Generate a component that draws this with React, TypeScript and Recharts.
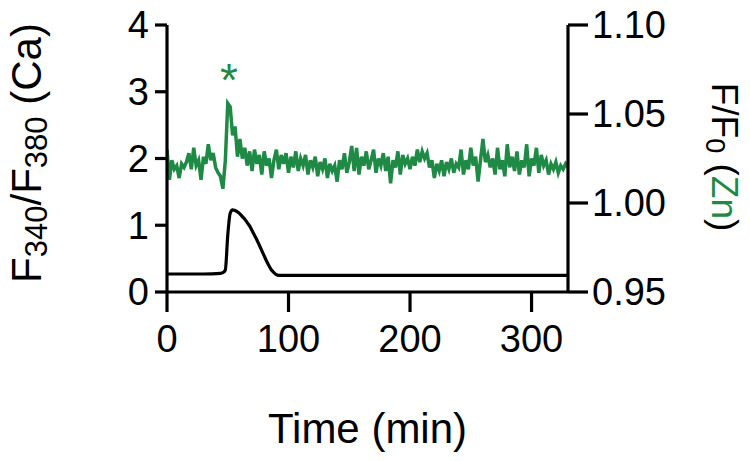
import React from 'react';
import { LineChart, Line, XAxis, YAxis, ReferenceDot } from 'recharts';

// Zn trace (F/F0), one sample every ZN_STEP minutes starting at 0
const ZN_STEP = 2;
const ZN_VALUES = [
  1.030, 1.013, 1.024, 1.019, 1.021, 1.014, 1.022, 1.020, 1.023, 1.028,
  1.019, 1.031, 1.021, 1.024, 1.013, 1.026, 1.022, 1.033, 1.024, 1.028,
  1.020, 1.017, 1.015, 1.008, 1.024, 1.056, 1.054, 1.038, 1.043, 1.026,
  1.036, 1.025, 1.031, 1.021, 1.029, 1.018, 1.030, 1.022, 1.027, 1.016,
  1.029, 1.021, 1.025, 1.014, 1.024, 1.030, 1.019, 1.027, 1.022, 1.028,
  1.017, 1.026, 1.020, 1.029, 1.018, 1.025, 1.021, 1.027, 1.016, 1.024,
  1.020, 1.026, 1.015, 1.023, 1.019, 1.025, 1.014, 1.022, 1.018, 1.021,
  1.012, 1.024, 1.019, 1.028, 1.017, 1.023, 1.032, 1.018, 1.031, 1.016,
  1.026, 1.021, 1.029, 1.019, 1.024, 1.030, 1.017, 1.025, 1.021, 1.028,
  1.018, 1.026, 1.011, 1.024, 1.020, 1.029, 1.016, 1.027, 1.022, 1.025,
  1.019, 1.026, 1.021, 1.030, 1.023, 1.029, 1.025, 1.028, 1.020, 1.024,
  1.014, 1.022, 1.018, 1.024, 1.015, 1.023, 1.019, 1.025, 1.017, 1.022,
  1.020, 1.030, 1.016, 1.024, 1.019, 1.031, 1.021, 1.026, 1.012, 1.024,
  1.036, 1.023, 1.027, 1.020, 1.025, 1.016, 1.031, 1.019, 1.024, 1.015,
  1.033, 1.020, 1.026, 1.018, 1.029, 1.016, 1.024, 1.020, 1.033, 1.015,
  1.025, 1.021, 1.031, 1.017, 1.027, 1.021, 1.024, 1.016, 1.022, 1.019,
  1.023, 1.017, 1.021, 1.019, 1.022, 1.020,
];

// Ca trace (F340/F380)
const CA_TIMES = [
  0, 30, 44, 46, 48, 50, 52, 54, 56, 58, 60, 62, 64, 66, 68, 70,
  72, 74, 76, 78, 80, 82, 84, 86, 88, 90, 92, 330,
];
const CA_VALUES = [
  0.27, 0.27, 0.28, 0.29, 0.33, 0.85, 1.18, 1.23, 1.22, 1.20, 1.17, 1.13, 1.09, 1.04, 0.99, 0.92,
  0.85, 0.78, 0.70, 0.62, 0.54, 0.46, 0.39, 0.33, 0.29, 0.26, 0.25, 0.25,
];

const X_TICKS = [0, 100, 200, 300];
const CA_TICKS = [0, 1, 2, 3, 4];
const ZN_TICKS = [0.95, 1.0, 1.05, 1.1];

// significance mark above the Zn peak
const STAR_TIME = 51;
const STAR_LEVEL = 1.0745;

const GREEN = '#1f8a45';
const FONT = '"Liberation Sans", Arial, Helvetica, sans-serif';

const znData = ZN_VALUES.map((v, i) => ({ time: i * ZN_STEP, zn: v }));
const caData = CA_TIMES.map((t, i) => ({ time: t, ca: CA_VALUES[i] }));

const tickStyle = { fontFamily: FONT, fontSize: 38, fill: '#000' };
const lineStyle = { stroke: '#000', strokeWidth: 3.2 };

const CaLabel = () => (
  <text transform="translate(41,153) rotate(-90)" textAnchor="middle" fontFamily={FONT} fontSize={42} fill="#000">
    F<tspan fontSize={31} dy={6}>340</tspan>
    <tspan dy={-6}>/F</tspan>
    <tspan fontSize={31} dy={6}>380</tspan>
    <tspan dy={-6}> (Ca)</tspan>
  </text>
);

const ZnLabel = () => (
  <text transform="translate(712,157) rotate(90)" textAnchor="middle" fontFamily={FONT} fontSize={37} fill="#000">
    F/F<tspan fontSize={27} dy={6}>0</tspan>
    <tspan dy={-6}> (</tspan>
    <tspan fill={GREEN}>Zn</tspan>
    <tspan>)</tspan>
  </text>
);

const TimeLabel = (props: any) => {
  const vb = props.viewBox || { x: 167, width: 401 };
  return (
    <text x={vb.x + vb.width / 2} y={443} textAnchor="middle" fontFamily={FONT} fontSize={42} fill="#000">
      Time (min)
    </text>
  );
};

const Star = (props: any) => (
  <text x={props.cx} y={props.cy + 26} textAnchor="middle" fontFamily={FONT} fontSize={46} fill={GREEN}>
    *
  </text>
);

export default function App() {
  return (
    <div style={{ position: 'absolute', left: 0, top: 0, width: 750, height: 461, background: '#fff' }}>
      <LineChart width={750} height={461} margin={{ top: 25, right: 0, bottom: 0, left: 0 }}>
        <XAxis
          dataKey="time"
          type="number"
          domain={[0, 330]}
          ticks={X_TICKS}
          allowDataOverflow
          height={169}
          tickSize={20}
          tickMargin={13}
          tick={tickStyle}
          axisLine={lineStyle}
          tickLine={lineStyle}
          label={TimeLabel}
        />
        <YAxis
          yAxisId="ca"
          type="number"
          domain={[0, 4]}
          ticks={CA_TICKS}
          width={167}
          tickSize={12}
          tickMargin={6}
          tick={tickStyle}
          axisLine={lineStyle}
          tickLine={lineStyle}
          label={CaLabel}
        />
        <YAxis
          yAxisId="zn"
          orientation="right"
          type="number"
          domain={[0.95, 1.1]}
          ticks={ZN_TICKS}
          tickFormatter={(v: number) => v.toFixed(2)}
          width={182}
          tickSize={20}
          tickMargin={4}
          tick={tickStyle}
          axisLine={lineStyle}
          tickLine={lineStyle}
          label={ZnLabel}
        />
        <Line
          yAxisId="ca"
          data={caData}
          dataKey="ca"
          type="monotone"
          stroke="#000"
          strokeWidth={3.2}
          dot={false}
          isAnimationActive={false}
        />
        <Line
          yAxisId="zn"
          data={znData}
          dataKey="zn"
          type="linear"
          stroke={GREEN}
          strokeWidth={3.5}
          dot={false}
          isAnimationActive={false}
        />
        <ReferenceDot yAxisId="zn" x={STAR_TIME} y={STAR_LEVEL} r={0} shape={Star} />
      </LineChart>
    </div>
  );
}
